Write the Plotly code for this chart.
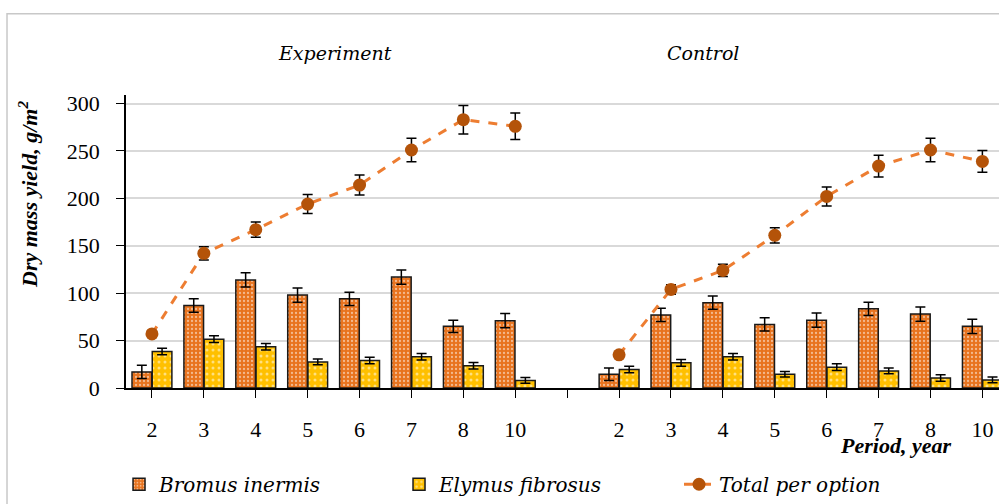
import plotly.graph_objects as go

periods = ["2", "3", "4", "5", "6", "7", "8", "10"]

exp_bromus = [17, 87, 114, 98, 94, 117, 65, 71]
exp_bromus_err = [7, 7, 7.5, 7.5, 7, 7.5, 6.5, 7.5]
exp_elymus = [38.5, 51.5, 43.5, 27.5, 29, 33, 23.5, 8]
exp_elymus_err = [3.5, 3.5, 3.5, 3, 3.5, 3.5, 3.5, 3]
exp_total = [57, 142, 167, 194, 214, 251, 283, 276]
exp_total_err = [3, 7, 8, 10, 10.5, 12.5, 15, 14]

ctl_bromus = [14.5, 77, 90, 67, 71.5, 83.5, 78, 65]
ctl_bromus_err = [6.5, 7, 7, 7, 7.5, 7, 7.5, 7.5]
ctl_elymus = [19.5, 26.5, 33, 14.5, 22, 18, 10.5, 8.5]
ctl_elymus_err = [3.5, 3.5, 3.5, 3, 3.5, 3, 3.5, 3]
ctl_total = [35, 104, 124, 161, 202, 234, 251, 239]
ctl_total_err = [3, 5, 6.5, 8, 10, 11.5, 12.5, 11.5]

group_titles = ["Experiment", "Control"]
y_ticks = [0, 50, 100, 150, 200, 250, 300]

# category positions: experiment 0..7, empty slot 8, control 9..16
x_exp = list(range(len(periods)))
x_ctl = [i + len(periods) + 1 for i in range(len(periods))]
x_all = x_exp + x_ctl

ORANGE = "#E8731E"
YELLOW = "#FFC000"
LINE = "#ED7D31"
MARK = "#B45309"
SERIF = "DejaVu Serif"
TIMES = "Liberation Serif"

fig = go.Figure()

fig.add_trace(go.Bar(
    name="Bromus inermis", x=x_all, y=exp_bromus + ctl_bromus,
    error_y=dict(type="data", array=exp_bromus_err + ctl_bromus_err,
                 color="black", thickness=1.5, width=5),
    marker=dict(color=ORANGE, line=dict(color="#1a1a1a", width=1.5),
                pattern=dict(shape=".", fgcolor="white", size=4, solidity=0.25)),
))
fig.add_trace(go.Bar(
    name="Elymus fibrosus", x=x_all, y=exp_elymus + ctl_elymus,
    error_y=dict(type="data", array=exp_elymus_err + ctl_elymus_err,
                 color="black", thickness=1.5, width=5),
    marker=dict(color=YELLOW, line=dict(color="#1a1a1a", width=1.5),
                pattern=dict(shape=".", fgcolor="white", size=6, solidity=0.2)),
))
fig.add_trace(go.Scatter(
    name="Total per option", x=x_exp + [None] + x_ctl,
    y=exp_total + [None] + ctl_total,
    mode="lines+markers", connectgaps=False,
    line=dict(color=LINE, width=3, dash="dash"),
    marker=dict(color=MARK, size=13),
    error_y=dict(type="data", array=exp_total_err + [0] + ctl_total_err,
                 color="black", thickness=1.5, width=5),
))

fig.update_layout(
    width=999, height=504,
    margin=dict(l=126, r=0, t=95, b=110),
    paper_bgcolor="white", plot_bgcolor="white",
    barmode="group", bargap=0.22, bargroupgap=0.03,
    showlegend=True,
    legend=dict(orientation="h", x=-0.008, y=-0.262, xanchor="left", yanchor="top",
                font=dict(family=SERIF, size=20, color="black", style="italic"),
                entrywidth=235, traceorder="normal"),
    xaxis=dict(
        range=[-0.5, 16.32],
        tickmode="array", tickvals=x_exp + [len(periods)] + x_ctl,
        ticktext=periods + [""] + periods,
        ticks="outside", ticklen=8, tickcolor="black", ticklabelstandoff=13,
        showline=True, linecolor="black", linewidth=1.5,
        showgrid=False, zeroline=False,
        tickfont=dict(family=TIMES, size=22, color="black"),
    ),
    yaxis=dict(
        range=[0, 309], tickvals=y_ticks,
        ticks="outside", ticklen=8, tickcolor="black", ticklabelstandoff=12,
        showline=True, linecolor="black", linewidth=1.5,
        showgrid=True, gridcolor="#d9d9d9", gridwidth=1.5, zeroline=False,
        tickfont=dict(family=TIMES, size=22, color="black"),
    ),
)

fig.add_annotation(x=-0.1123, y=0.662, xref="paper", yref="paper",
                   text="Dry mass yield, g/m<sup>2</sup>", textangle=-90,
                   xanchor="center", yanchor="middle", showarrow=False,
                   font=dict(family=TIMES, size=22, color="black",
                             weight="bold", style="italic"))
fig.add_annotation(x=3.53, y=1.144, xref="x", yref="paper", text=group_titles[0],
                   xanchor="center", yanchor="middle", showarrow=False,
                   font=dict(family=SERIF, size=19, color="black", style="italic"))
fig.add_annotation(x=10.62, y=1.144, xref="x", yref="paper", text=group_titles[1],
                   xanchor="center", yanchor="middle", showarrow=False,
                   font=dict(family=SERIF, size=19, color="black", style="italic"))
fig.add_annotation(x=14.32, y=-0.197, xref="x", yref="paper", text="Period, year",
                   xanchor="center", yanchor="middle", showarrow=False,
                   font=dict(family=TIMES, size=22, color="black",
                             weight="bold", style="italic"))

# outer chart frame
fig.add_shape(type="rect", xref="paper", yref="paper",
              x0=-0.1363, x1=1.05, y0=-0.5, y1=1.2776,
              line=dict(color="#c8c8c8", width=1.5), fillcolor="rgba(0,0,0,0)", layer="below")

fig.write_html("out.html",
               config={"displayModeBar": False},
               post_script="document.body.style.margin='0';document.body.style.overflow='hidden';")
